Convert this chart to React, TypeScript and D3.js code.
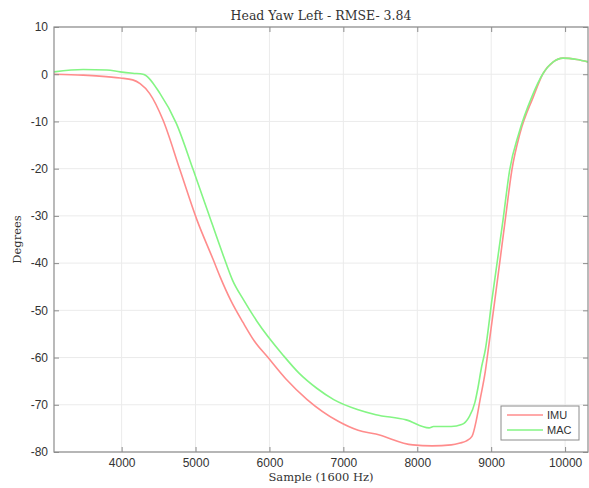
import { useEffect, useRef } from "react";
import * as d3 from "d3";

// IMU curve (sample index, degrees)
const imuSample = [3085, 3480, 3700, 3980, 4150, 4250, 4380, 4560, 4790, 5020, 5240, 5330, 5480, 5640, 5800, 5970, 6220, 6510, 6930, 7200, 7440, 7940, 8200, 8460, 8580, 8660, 8740, 8800, 8850, 8920, 8960, 9050, 9190, 9280, 9390, 9570, 9700, 9840, 9970, 10160, 10310];
const imuDeg = [0.0, -0.2, -0.4, -0.8, -1.2, -2.0, -4.1, -9.7, -20.3, -30.9, -39.3, -42.8, -48.0, -52.5, -56.6, -59.8, -64.5, -68.9, -73.5, -75.4, -76.2, -78.5, -78.7, -78.5, -78.1, -77.7, -76.7, -73.2, -68.9, -63.0, -58.4, -47.8, -30.9, -20.3, -12.5, -4.8, 0.1, 2.6, 3.4, 3.1, 2.6];

// MAC curve
const macSample = [3085, 3480, 3800, 3980, 4150, 4290, 4520, 4740, 4970, 5160, 5380, 5500, 5650, 5830, 6190, 6400, 6640, 6870, 7190, 7440, 7850, 8160, 8220, 8460, 8600, 8700, 8780, 8820, 8870, 8920, 9010, 9160, 9250, 9375, 9550, 9700, 9840, 9970, 10160, 10310];
const macDeg = [0.5, 1.0, 0.9, 0.5, 0.2, 0.0, -4.1, -10.4, -20.3, -28.8, -38.6, -43.6, -47.8, -52.3, -59.6, -63.3, -66.5, -68.9, -71.0, -72.1, -73.2, -74.9, -74.6, -74.6, -74.2, -72.6, -69.5, -66.5, -62.0, -58.4, -47.8, -30.9, -20.3, -12.5, -4.8, 0.1, 2.6, 3.4, 3.1, 2.6];

const xTicks = [4000, 5000, 6000, 7000, 8000, 9000, 10000];
const yTicks = [10, 0, -10, -20, -30, -40, -50, -60, -70, -80];
const seriesNames = ["IMU", "MAC"];
const seriesColors = ["#ff8c8c", "#84f584"];

const W = 589, H = 488;
const left = 54, right = 588, top = 27, bottom = 452;

export default function App() {
  const ref = useRef<SVGSVGElement>(null);

  useEffect(() => {
    const svg = d3.select(ref.current);
    svg.selectAll("*").remove();

    const x = d3.scaleLinear().domain([3085, 10310]).range([left, right]);
    const y = d3.scaleLinear().domain([-80, 10]).range([bottom, top]);
    const axisColor = "#8c8c8c";
    const sans = "'Liberation Sans', Arial, sans-serif";
    const serif = "'DejaVu Serif', serif";

    svg.append("rect").attr("width", W).attr("height", H).attr("fill", "#fff");

    // grid
    const grid = svg.append("g").attr("stroke", "#ebebeb").attr("stroke-width", 1);
    xTicks.forEach(t => {
      grid.append("line").attr("x1", x(t)).attr("x2", x(t)).attr("y1", top).attr("y2", bottom);
    });
    yTicks.forEach(t => {
      grid.append("line").attr("x1", left).attr("x2", right).attr("y1", y(t)).attr("y2", y(t));
    });

    svg.append("clipPath").attr("id", "plotclip")
      .append("rect").attr("x", left).attr("y", top).attr("width", right - left).attr("height", bottom - top);

    const line = d3.line<[number, number]>()
      .x(d => x(d[0])).y(d => y(d[1]))
      .curve(d3.curveMonotoneX);

    const series = [
      imuSample.map((s, i) => [s, imuDeg[i]] as [number, number]),
      macSample.map((s, i) => [s, macDeg[i]] as [number, number]),
    ];
    series.forEach((pts, i) => {
      svg.append("path")
        .attr("clip-path", "url(#plotclip)")
        .attr("d", line(pts))
        .attr("fill", "none")
        .attr("stroke", seriesColors[i])
        .attr("stroke-width", 1.6);
    });

    // box + axes
    svg.append("rect")
      .attr("x", left).attr("y", top).attr("width", right - left).attr("height", bottom - top)
      .attr("fill", "none").attr("stroke", axisColor).attr("stroke-width", 1.2);

    const ax = svg.append("g")
      .attr("transform", `translate(0,${bottom})`)
      .call(d3.axisBottom(x).tickValues(xTicks).tickFormat(d => String(d)).tickSizeInner(-5).tickSizeOuter(0).tickPadding(6));
    ax.select(".domain").remove();
    ax.selectAll("line").attr("stroke", axisColor);
    ax.selectAll("text").attr("fill", "#333").attr("font-family", sans).attr("font-size", 12);

    svg.append("g").attr("transform", `translate(0,${top})`)
      .call(d3.axisTop(x).tickValues(xTicks).tickSizeInner(-5).tickSizeOuter(0).tickFormat(() => ""))
      .call(g => g.select(".domain").remove())
      .selectAll("line").attr("stroke", axisColor);

    const ay = svg.append("g")
      .attr("transform", `translate(${left},0)`)
      .call(d3.axisLeft(y).tickValues(yTicks).tickFormat(d => String(d)).tickSizeInner(-5).tickSizeOuter(0).tickPadding(6));
    ay.select(".domain").remove();
    ay.selectAll("line").attr("stroke", axisColor);
    ay.selectAll("text").attr("fill", "#333").attr("font-family", sans).attr("font-size", 12);

    svg.append("g").attr("transform", `translate(${right},0)`)
      .call(d3.axisRight(y).tickValues(yTicks).tickSizeInner(-5).tickSizeOuter(0).tickFormat(() => ""))
      .call(g => g.select(".domain").remove())
      .selectAll("line").attr("stroke", axisColor);

    // labels
    svg.append("text").attr("x", (left + right) / 2).attr("y", 20)
      .attr("text-anchor", "middle").attr("font-family", serif).attr("font-size", 12.5)
      .attr("fill", "#333").text("Head Yaw Left - RMSE- 3.84");
    svg.append("text").attr("x", (left + right) / 2).attr("y", 481)
      .attr("text-anchor", "middle").attr("font-family", serif).attr("font-size", 11.5)
      .attr("fill", "#333").text("Sample (1600 Hz)");
    svg.append("text").attr("transform", `translate(21,${(top + bottom) / 2}) rotate(-90)`)
      .attr("text-anchor", "middle").attr("font-family", serif).attr("font-size", 11.5)
      .attr("fill", "#333").text("Degrees");

    // legend
    const lg = svg.append("g");
    lg.append("rect").attr("x", 501).attr("y", 406).attr("width", 78).attr("height", 34)
      .attr("fill", "#fff").attr("stroke", axisColor).attr("stroke-width", 1);
    seriesNames.forEach((name, i) => {
      const yy = 415 + i * 15;
      lg.append("line").attr("x1", 507).attr("x2", 543).attr("y1", yy).attr("y2", yy)
        .attr("stroke", seriesColors[i]).attr("stroke-width", 1.6);
      lg.append("text").attr("x", 547).attr("y", yy + 4).attr("font-family", sans)
        .attr("font-size", 11).attr("fill", "#333").text(name);
    });
  }, []);

  return (
    <svg ref={ref} width={W} height={H}
      style={{ position: "absolute", left: 0, top: 0, display: "block" }} />
  );
}
